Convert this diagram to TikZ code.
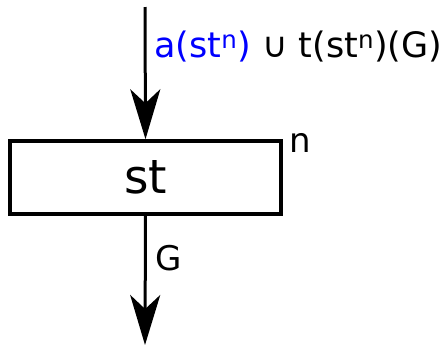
\documentclass[tikz,border=0pt]{standalone}
\usepackage{fontspec}
\setmainfont{DejaVu Sans}
\usetikzlibrary{arrows.meta}
\definecolor{lblue}{RGB}{0,0,255}
\tikzset{
  conn/.style={line width=3pt, -{Stealth[length=50pt, width=30pt, inset=14pt]}},
  stbox/.style={draw, line width=3.5pt, minimum width=271pt, minimum height=73pt, inner sep=0pt, font=\fontsize{47}{56}\selectfont},
  lbl/.style={font=\fontsize{34}{40}\selectfont, inner sep=0pt}
}
\begin{document}
\begin{tikzpicture}[x=1pt,y=-1pt]
\useasboundingbox (0,0) rectangle (445,346);
\node[stbox] (st) at (145.5,177.5) {st};
\coordinate (top) at (145,7);
\coordinate (bot) at (145,345);
\draw[conn] (top) -- (st.north);
\draw[conn] (st.south) -- (bot);
\node[lbl, anchor=west, font=\fontsize{35}{42}\selectfont] (lab) at (154,47) {\textcolor{lblue}{a(st\textsuperscript{n})} ∪ t(st\textsuperscript{n})(G)};
\node[lbl] (n) at (300,143) {n};
\node[lbl, anchor=west] (g) at (155,258) {G};
\end{tikzpicture}
\end{document}
